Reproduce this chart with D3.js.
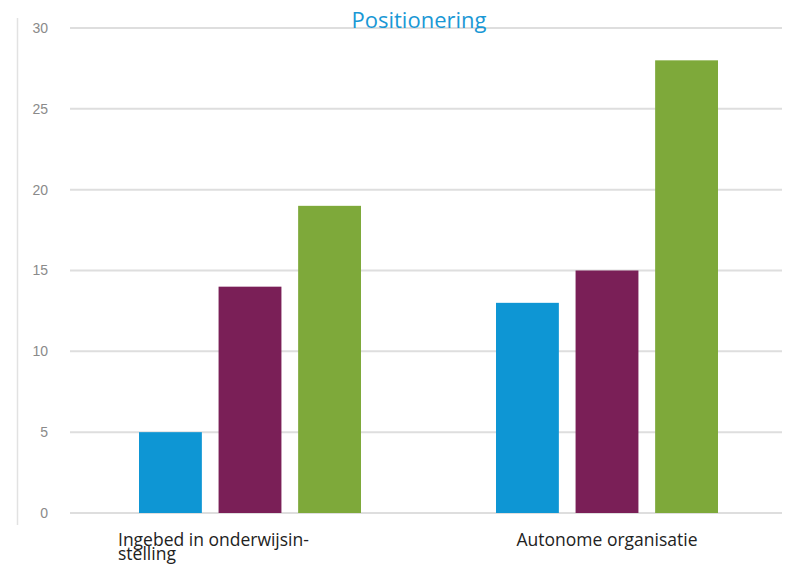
<!DOCTYPE html>
<html><head><meta charset="utf-8">
<script src="https://cdn.jsdelivr.net/npm/d3@7/dist/d3.min.js"></script>
<style>body{margin:0;background:#fff}</style>
</head><body><svg id="c" width="798" height="564"></svg>
<script>
const categories = ["Ingebed in onderwijsin-stelling", "Autonome organisatie"];
const categoryLines = [["Ingebed in onderwijsin-", "stelling"], ["Autonome organisatie"]];
const seriesNames = ["A", "B", "C"];
const seriesA = [5, 13];
const seriesB = [14, 15];
const seriesC = [19, 28];
const colors = ["#0e96d4", "#7a1f57", "#7ea93a"];
const yTicks = [0, 5, 10, 15, 20, 25, 30];

const svg = d3.select("#c");
const y = d3.scaleLinear().domain([0, 30]).range([513, 28]);
const x0 = d3.scaleBand().domain(categories).range([71.5, 785.5]);
const x1 = d3.scaleBand().domain(seriesNames).range([0, 222]).paddingInner(0.21).paddingOuter(0);

// left border
svg.append("line").attr("x1", 17.5).attr("x2", 17.5).attr("y1", 18).attr("y2", 525)
  .attr("stroke", "#e2e2e2").attr("stroke-width", 1.5);

// gridlines
svg.append("g").selectAll("line").data(yTicks).join("line")
  .attr("x1", 70).attr("x2", 782)
  .attr("y1", d => y(d)).attr("y2", d => y(d))
  .attr("stroke", "#dedede").attr("stroke-width", 2);

// y labels
svg.append("g").selectAll("text").data(yTicks).join("text")
  .attr("x", 48).attr("y", d => y(d)).attr("dy", "0.35em")
  .attr("text-anchor", "end")
  .attr("font-family", "Liberation Sans, DejaVu Sans, sans-serif")
  .attr("font-size", 14).attr("fill", "#8a8a8a")
  .text(d => d);

// bars
const rows = categories.map((c, i) => ({c, vals: [seriesA[i], seriesB[i], seriesC[i]]}));
const g = svg.append("g").selectAll("g").data(rows).join("g")
  .attr("transform", d => `translate(${x0(d.c) + x0.bandwidth()/2 - 111},0)`);
g.selectAll("rect").data(d => d.vals.map((v, j) => ({s: seriesNames[j], v, j}))).join("rect")
  .attr("x", d => x1(d.s)).attr("width", x1.bandwidth())
  .attr("y", d => y(d.v)).attr("height", d => y(0) - y(d.v))
  .attr("fill", d => colors[d.j]);

// category labels
categories.forEach((c, i) => {
  const lines = categoryLines[i];
  const t = svg.append("text")
    .attr("font-family", "Open Sans, Lato, sans-serif")
    .attr("font-size", 17.5).attr("fill", "#222");
  if (lines.length > 1) {
    const xl = x0(c) + x0.bandwidth()/2 - 132;
    lines.forEach((l, k) => t.append("tspan").attr("x", xl).attr("y", 546 + k * 14).text(l));
  } else {
    t.attr("text-anchor", "middle").attr("x", x0(c) + x0.bandwidth()/2).attr("y", 546).text(lines[0]);
  }
});

// title
svg.append("text").attr("x", 419).attr("y", 28).attr("text-anchor", "middle")
  .attr("font-family", "Open Sans, Lato, sans-serif").attr("font-size", 22)
  .attr("fill", "#1a98d5").text("Positionering");
</script>
</body></html>
